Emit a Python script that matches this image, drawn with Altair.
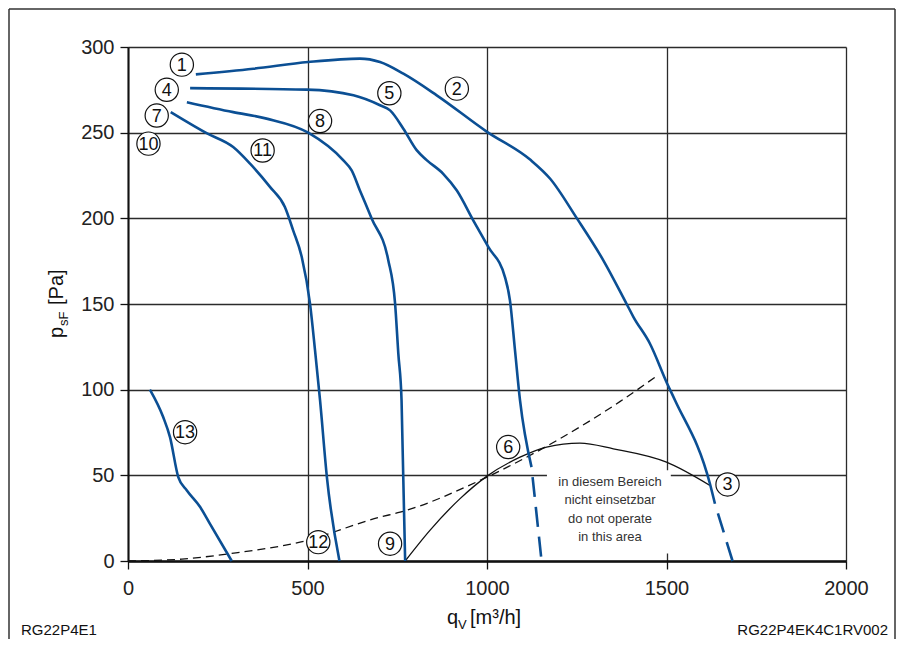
import altair as alt
import pandas as pd

FONT = "Liberation Sans"
BLUE = "#0b4f94"

# ---- fan curves (q_V in m3/h, p_sF in Pa) ----
c2_x = [189, 349, 502, 646, 702, 767, 860, 1000, 1120, 1176, 1250, 1324, 1389, 1408, 1454, 1502, 1524, 1621, 1635]
c2_y = [284, 287.3, 291.2, 293.2, 291.2, 284.4, 271.8, 250.5, 234.3, 223.1, 200.1, 175.5, 150, 142.4, 126.8, 103.5, 93.7, 45.1, 33.4]
c2t_x = [1635, 1684]
c2t_y = [33.4, 0]

c5_x = [173, 498, 628, 702, 730, 767, 804, 832, 878, 916, 962, 1004, 1050, 1064, 1078, 1092, 1124]
c5_y = [276, 275.1, 271.8, 266, 263, 252.3, 239.8, 234, 226, 216.2, 198.7, 183.2, 165.7, 152, 122.9, 93.7, 54.8]
c5t_x = [1124, 1152]
c5t_y = [54.8, 0]

c8_x = [164, 293, 386, 502, 600, 623, 646, 679, 725, 744, 753, 762, 772]
c8_y = [267.8, 262, 258.2, 250, 233.8, 228, 216.3, 199.8, 175.6, 150.2, 121, 93.7, 0]

c11_x = [119, 219, 293, 340, 396, 437, 460, 484, 507, 521, 535, 554, 589]
c11_y = [262, 249.7, 241.6, 231.9, 218.2, 206.6, 193, 177.4, 150.2, 122.9, 93.7, 49, 0]

c13_x = [61, 98, 117, 140, 164, 201, 228, 289]
c13_y = [100, 84, 72.3, 49, 41.2, 31.5, 21.8, 0]

# system curve (dashed) and operating limit (thin black)
sys_x = [0, 150, 284, 479, 702, 758, 1000, 1200, 1370, 1477]
sys_y = [0, 1.1, 4.3, 11, 25.6, 28.5, 49, 71, 93, 108.6]
lim_x = [772, 841, 925, 999, 1092, 1166, 1259, 1352, 1500, 1621]
lim_y = [0, 17.9, 36.4, 49.4, 60.6, 66.5, 68.8, 65.5, 57.7, 44.1]

# circled labels
lab_t = ["1", "2", "3", "4", "5", "6", "7", "8", "9", "10", "11", "12", "13"]
lab_x = [150, 916, 1670, 108, 728, 1059, 80, 535, 730, 57, 375, 530, 159]
lab_y = [289.7, 275.7, 44.7, 275, 273, 66.5, 260, 256.8, 10.1, 243.6, 239.6, 11.0, 75.2]

# "do not operate" box
box_x = [1167]
box_x2 = [1512]
box_y = [4.4]
box_y2 = [53]
box_lines = ["in diesem Bereich", "nicht einsetzbar", "do not operate", "in this area"]

x_ticks = [0, 500, 1000, 1500, 2000]
y_ticks = [0, 50, 100, 150, 200, 250, 300]


def curve_df(name, xs, ys):
    return pd.DataFrame({"curve": name, "order": range(len(xs)), "x": xs, "y": ys})


solid = pd.concat([curve_df("c2", c2_x, c2_y), curve_df("c5", c5_x, c5_y),
                   curve_df("c8", c8_x, c8_y), curve_df("c11", c11_x, c11_y),
                   curve_df("c13", c13_x, c13_y)])
tails = pd.concat([curve_df("c2", c2t_x, c2t_y), curve_df("c5", c5t_x, c5t_y)])
sysdf = curve_df("sys", sys_x, sys_y)
limdf = curve_df("lim", lim_x, lim_y)
labdf = pd.DataFrame({"t": lab_t, "x": lab_x, "y": lab_y})
boxdf = pd.DataFrame({"x": box_x, "x2": box_x2, "y": box_y, "y2": box_y2})


def X(field="x"):
    return alt.X(f"{field}:Q", scale=alt.Scale(domain=[0, 2000], nice=False, zero=False),
                 axis=alt.Axis(values=x_ticks, title=None, grid=True, gridColor="#2b2b2b", gridWidth=1.3,
                               domainColor="#111", domainWidth=2.6, tickColor="#111", tickWidth=1.3,
                               tickSize=8, labelFontSize=20, labelFont=FONT, labelColor="#222",
                               labelPadding=9, labelFlush=False, labelOverlap=False, format="d"))


def Y(field="y"):
    return alt.Y(f"{field}:Q", scale=alt.Scale(domain=[0, 300], nice=False, zero=False),
                 axis=alt.Axis(values=y_ticks, title=None, grid=True, gridColor="#2b2b2b", gridWidth=1.3,
                               domainColor="#111", domainWidth=2, tickColor="#111", tickWidth=1.3,
                               tickSize=8, labelFontSize=20, labelFont=FONT, labelColor="#222",
                               labelPadding=6, labelOverlap=False, format="d"))


def ptext(txt, px, py, size=20, angle=0, align="left", baseline="alphabetic", color="#111"):
    return alt.Chart(pd.DataFrame({"t": [txt]})).mark_text(
        text=txt, fontSize=size, font=FONT, angle=angle, align=align, baseline=baseline, color=color
    ).encode(x=alt.value(px - 128), y=alt.value(py - 47))


box = alt.Chart(boxdf).mark_rect(fill="white", stroke=None).encode(x=X("x"), x2="x2:Q", y=Y("y"), y2="y2:Q")

sys_line = alt.Chart(sysdf).mark_line(color="#111", strokeWidth=1.3, strokeDash=[8, 5],
                                       interpolate="monotone").encode(x=X(), y=Y(), order="order:Q")
lim_line = alt.Chart(limdf).mark_line(color="#111", strokeWidth=1.3,
                                       interpolate="monotone").encode(x=X(), y=Y(), order="order:Q")
blue_solid = alt.Chart(solid).mark_line(color=BLUE, strokeWidth=2.6, interpolate="monotone").encode(
    x=X(), y=Y(), detail="curve:N", order="order:Q")
blue_tail = alt.Chart(tails).mark_line(color=BLUE, strokeWidth=2.6, strokeDash=[20, 10],
                                        strokeDashOffset=20).encode(
    x=X(), y=Y(), detail="curve:N", order="order:Q")

circles = alt.Chart(labdf).mark_point(shape="circle", filled=True, fill="white", stroke="#111",
                                       strokeWidth=1.2, size=540, opacity=1).encode(x=X(), y=Y())
circ_txt = alt.Chart(labdf).mark_text(fontSize=18, font=FONT, color="#111", baseline="middle",
                                       align="center", dy=1).encode(x=X(), y=Y(), text="t:N")

box_text = [ptext(t, 610, 482 + i * 18.3, size=13, align="center", baseline="middle", color="#333")
            for i, t in enumerate(box_lines)]

titles = [
    ptext("q", 447, 624), ptext("V", 458, 629, size=13), ptext("[m³/h]", 470, 624),
    ptext("p", 63, 338, angle=270), ptext("sF", 68, 326, size=13, angle=270),
    ptext("[Pa]", 63, 305, angle=270),
    ptext("RG22P4E1", 21, 630, size=15, baseline="middle"),
    ptext("RG22P4EK4C1RV002", 888, 630, size=15, align="right", baseline="middle"),
]

frame_df = pd.DataFrame({"a": [0]})
frame = [
    alt.Chart(frame_df).mark_rule(color="#333", strokeWidth=1.5).encode(
        x=alt.value(9 - 128), y=alt.value(9 - 47), y2=alt.value(639 - 47)),
    alt.Chart(frame_df).mark_rule(color="#333", strokeWidth=1.5).encode(
        x=alt.value(895 - 128), y=alt.value(9 - 47), y2=alt.value(639 - 47)),
    alt.Chart(frame_df).mark_rule(color="#333", strokeWidth=1.5).encode(
        x=alt.value(9 - 128), x2=alt.value(895 - 128), y=alt.value(9 - 47)),
]

chart = alt.layer(
    box, sys_line, lim_line, blue_solid, blue_tail, circles, circ_txt, *box_text, *titles, *frame
).properties(
    width=718, height=514,
    autosize=alt.AutoSizeParams(type="none"),
    padding={"left": 120, "top": 39, "right": 50, "bottom": 78},
    background="white",
).configure_view(stroke=None)

chart.save("out.html", embed_options={"renderer": "svg", "actions": False})
